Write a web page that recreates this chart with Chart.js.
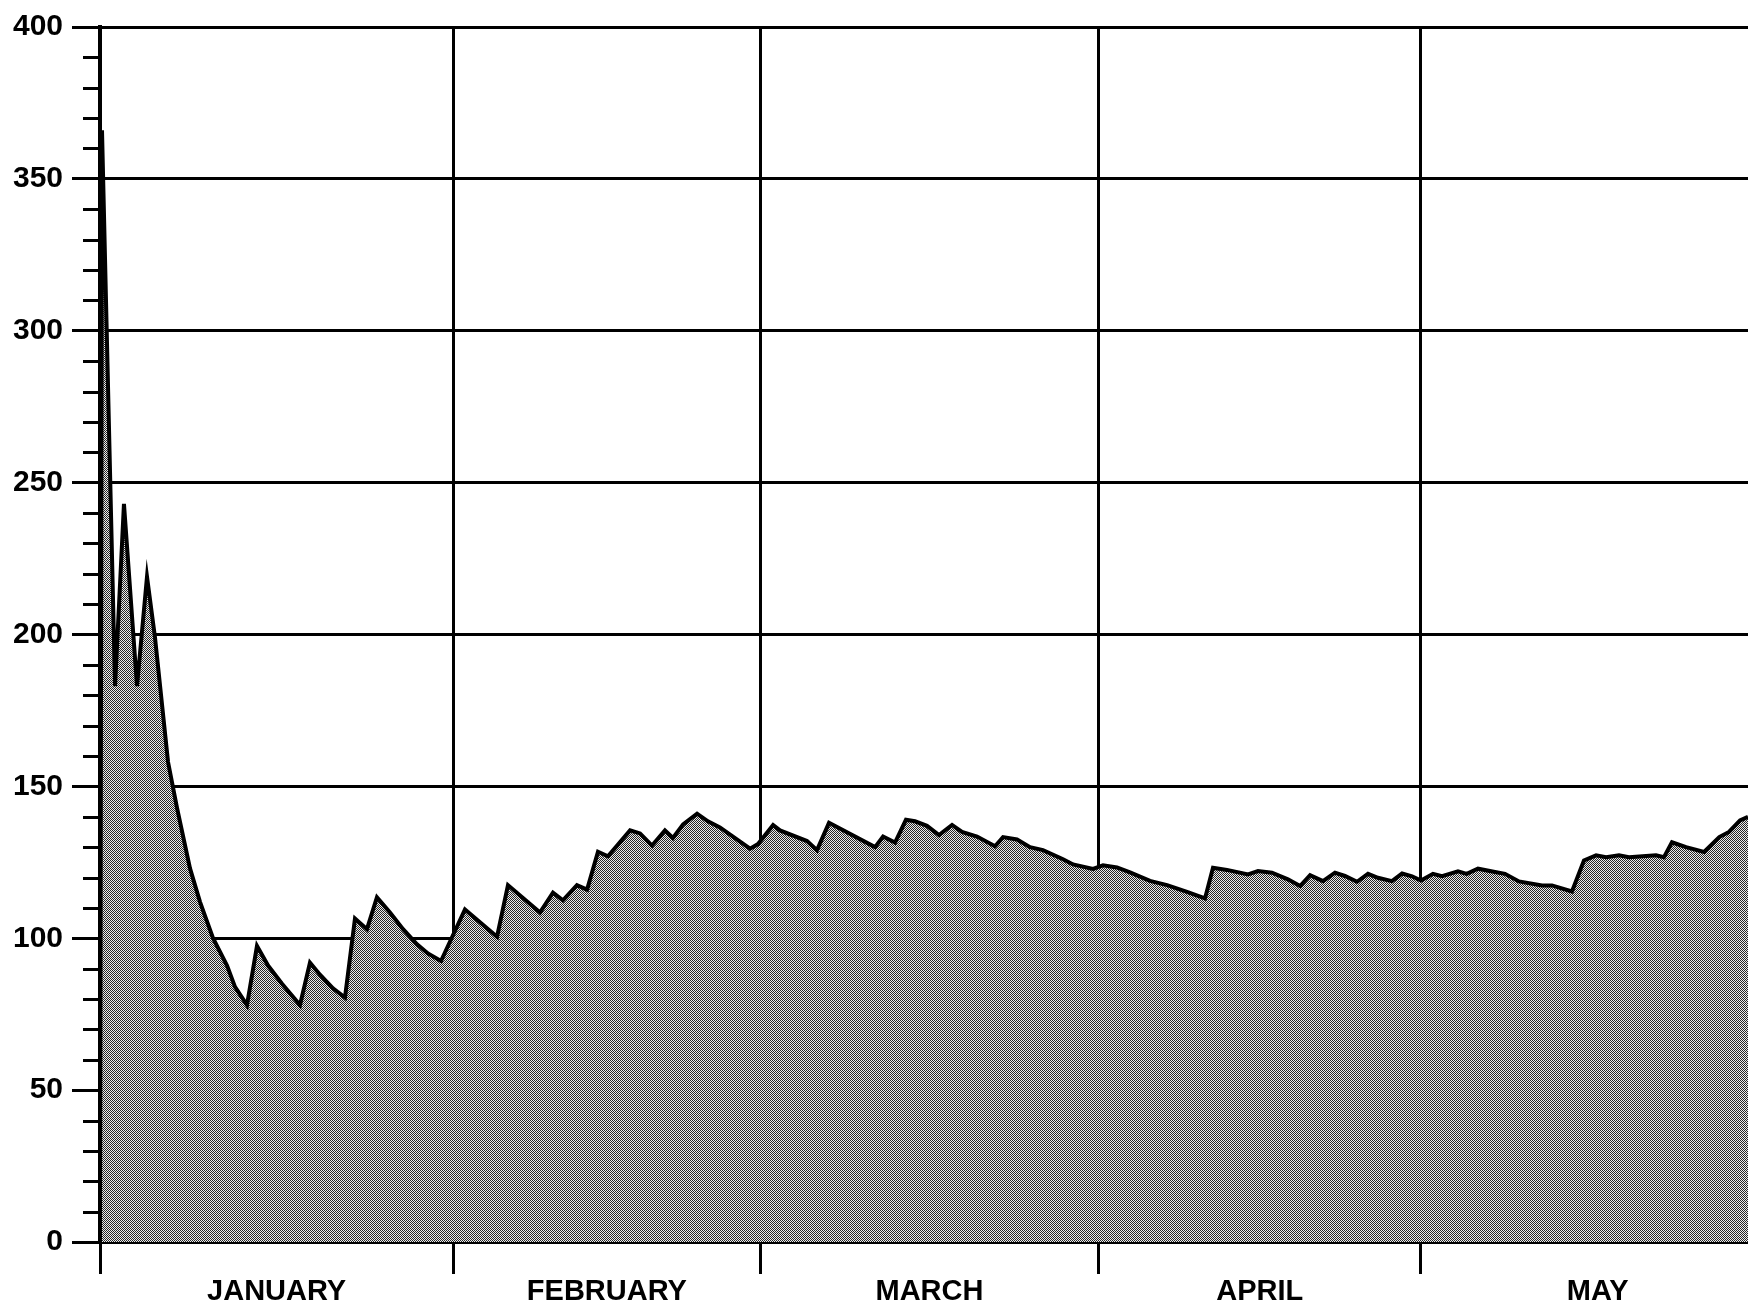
<!DOCTYPE html>
<html>
<head>
<meta charset="utf-8">
<title>January - May series</title>
<script src="https://cdn.jsdelivr.net/npm/chart.js@4.4.1/dist/chart.umd.min.js"></script>
<style>
  html, body { margin: 0; padding: 0; background: #fff; }
  #wrap { width: 1748px; height: 1307px; position: relative; }
</style>
</head>
<body>
<div id="wrap"><canvas id="chart"></canvas></div>
<script>
// months along the bottom, measured in trading days (Jan 1 on a Monday)
const monthNames = ['JANUARY', 'FEBRUARY', 'MARCH', 'APRIL', 'MAY'];
const monthTradingDays = [23, 20, 22, 21, 23];
const yLabels = [0, 50, 100, 150, 200, 250, 300, 350, 400];
const minorStep = 10;

// series: trading-day position and value at each corner of the line
const pos = [
  0, 0.13, 0.98, 1.56, 2.41, 3.06, 3.58, 4.43, 5.01, 5.86, 6.51, 7.36, 8.27, 8.79, 9.57, 10.22,
  10.94, 11.85, 13.02, 13.67, 14.32, 15.17, 15.95, 16.6, 17.38, 18.03, 18.88, 19.73, 20.64, 21.35, 22.2,
  23.76, 25.85, 26.56, 28.65, 29.49, 30.14, 31.05, 31.71, 32.42, 33.07, 34.51, 35.16, 35.94, 36.78,
  37.3, 37.96, 38.87, 39.58, 40.36, 42.32,
  42.84, 43.82, 44.27, 46.03, 46.68, 47.46, 50.46, 50.98, 51.76, 52.47, 53.06, 53.84, 54.62, 55.47,
  56.12, 57.1, 58.27, 58.79, 59.7, 60.55, 61.39, 62.7, 63.35, 64.65,
  65.3, 66.21, 67.06, 68.36, 69.47, 70.77, 71.94, 72.46, 73.37, 74.74, 75.39, 76.3, 77.34,
  78.13, 78.78, 79.62, 80.4, 81.05, 81.84, 82.55, 83.2, 84.11, 84.77, 85.42, 86.0,
  86.78, 87.37, 88.41, 88.98, 89.71, 90.82, 91.47, 92.38, 93.88, 94.53, 95.83, 96.61,
  97.4, 98.05, 98.89, 99.54, 100.65, 101.3, 101.82, 102.34, 103.26, 104.43, 105.42, 106.05,
  106.77, 107.29
];
const values = [
  0, 366, 183, 243, 183, 219, 199, 158, 143, 123, 112, 100, 91, 84, 78, 97.5,
  91, 85, 78, 92, 88, 83.5, 80.5, 106.5, 103, 113.5, 108.5, 103, 98, 95, 92.5,
  109.5, 100.5, 117.5, 108.5, 115, 112.5, 117.5, 116, 128.5, 127, 135.5, 134.5, 130.5, 135.5,
  133, 137.5, 141, 138.5, 136.5, 129.5,
  131, 137.3, 135.5, 132, 129, 138, 130, 133.5, 131.5, 139, 138.5, 137, 134, 137.3,
  135, 133.5, 130.3, 133.3, 132.5, 130, 129, 126, 124.3, 122.8,
  124, 123.3, 121.7, 118.9, 117.5, 115.3, 113.1, 123.2, 122.5, 121, 122.1, 121.6, 119.4,
  117.2, 120.8, 118.8, 121.6, 120.5, 118.6, 121.2, 119.9, 118.8, 121.3, 120.4, 119,
  121.2, 120.4, 122, 121.2, 122.9, 121.8, 121.2, 118.7, 117.4, 117.4, 115.4, 125.6,
  127.3, 126.7, 127.3, 126.7, 127.1, 127.3, 126.7, 131.6, 130, 128.4, 133.3, 135,
  138.8, 140
];

const monthStarts = monthTradingDays.map((_, i) =>
  monthTradingDays.slice(0, i).reduce((a, b) => a + b, 0));
const monthMids = monthStarts.map((s, i) => s + monthTradingDays[i] / 2);
const lastPos = pos[pos.length - 1];

// halftone-ish screen for the area fill
function screenPattern() {
  const c = document.createElement('canvas');
  c.width = 2; c.height = 2;
  const g = c.getContext('2d');
  g.fillStyle = '#ececec';
  g.fillRect(0, 0, 2, 2);
  g.fillStyle = '#262626';
  g.fillRect(0, 0, 1, 1);
  g.fillRect(1, 1, 1, 1);
  return g.createPattern(c, 'repeat');
}

// short ticks between the labelled ones on the value axis
const minorTicks = {
  id: 'minorTicks',
  afterDraw(chart) {
    const y = chart.scales.y;
    const left = chart.chartArea.left;
    const ctx = chart.ctx;
    ctx.save();
    ctx.strokeStyle = '#000';
    ctx.lineWidth = 3;
    for (let v = y.min + minorStep; v < y.max; v += minorStep) {
      if (yLabels.includes(v)) continue;
      const py = Math.round(y.getPixelForValue(v)) + 0.5;
      ctx.beginPath();
      ctx.moveTo(left - 17, py);
      ctx.lineTo(left, py);
      ctx.stroke();
    }
    ctx.restore();
  }
};

const labelFont = { family: '"Liberation Sans", Arial, sans-serif', size: 29, weight: 'bold' };

new Chart(document.getElementById('chart'), {
  type: 'line',
  data: {
    datasets: [{
      data: pos.map((p, i) => ({ x: p, y: values[i] })),
      borderColor: '#000',
      borderWidth: 4,
      borderJoinStyle: 'miter',
      backgroundColor: screenPattern(),
      fill: 'origin',
      pointRadius: 0,
      tension: 0
    }]
  },
  options: {
    responsive: true,
    maintainAspectRatio: false,
    animation: false,
    layout: { padding: { top: 25, right: 0, bottom: 0, left: 0 } },
    plugins: { legend: { display: false }, tooltip: { enabled: false } },
    scales: {
      x: {
        type: 'linear',
        min: 0,
        max: lastPos,
        z: 1,
        afterBuildTicks: axis => {
          axis.ticks = monthStarts.concat(monthMids)
            .sort((a, b) => a - b)
            .map(v => ({ value: v }));
        },
        afterFit: axis => { axis.height = 65; },
        grid: {
          color: c => monthStarts.includes(c.tick.value) ? '#000' : 'rgba(0,0,0,0)',
          lineWidth: 3,
          tickLength: 32
        },
        border: { color: '#000', width: 4 },
        ticks: {
          autoSkip: false,
          maxRotation: 0,
          padding: 1,
          color: '#000',
          font: labelFont,
          callback: v => {
            const i = monthMids.indexOf(v);
            return i >= 0 ? monthNames[i] : '';
          }
        }
      },
      y: {
        min: yLabels[0],
        max: yLabels[yLabels.length - 1],
        z: 0,
        afterFit: axis => { axis.width = 100; },
        grid: { color: '#000', lineWidth: 3, tickLength: 28 },
        border: { color: '#000', width: 4 },
        ticks: { stepSize: 50, padding: 9, color: '#000', font: { ...labelFont, size: 30 } }
      }
    }
  },
  plugins: [minorTicks]
});
</script>
</body>
</html>
